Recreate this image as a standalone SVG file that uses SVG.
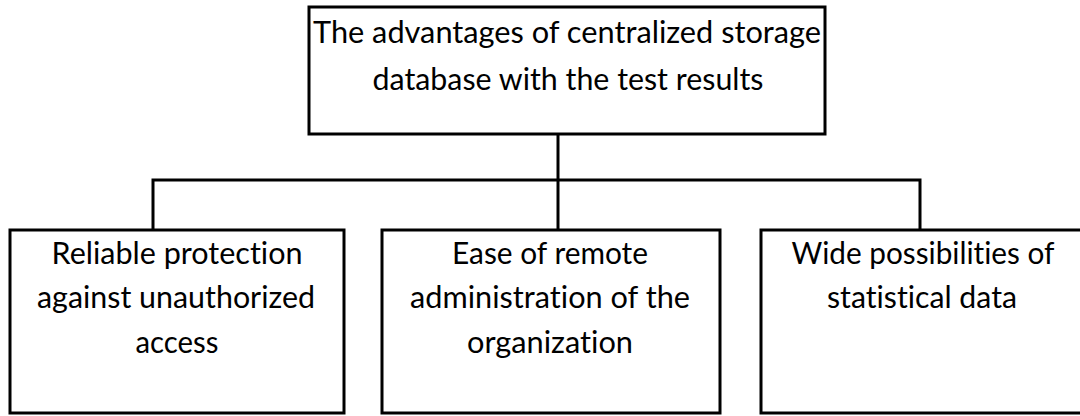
<svg xmlns="http://www.w3.org/2000/svg" width="1080" height="416" viewBox="0 0 1080 416">
  <style>
    .box { fill: #ffffff; stroke: #000000; stroke-width: 3; }
    .conn { fill: none; stroke: #000000; stroke-width: 3; }
    .lbl { font-family: Lato, "Open Sans", "Liberation Sans", sans-serif; font-size: 30px; fill: #000000; text-anchor: middle; font-variant-ligatures: none; }
  </style>
  <rect width="1080" height="416" fill="#ffffff"/>
  <g id="connectors">
    <line class="conn" x1="558" y1="134" x2="558" y2="230"/>
    <polyline class="conn" points="153,230 153,180 920,180 920,230"/>
  </g>
  <g id="root">
    <rect class="box" x="309" y="7" width="516" height="127"/>
    <text class="lbl" x="567" y="43" textLength="508" lengthAdjust="spacingAndGlyphs">The advantages of centralized storage</text>
    <text class="lbl" x="568" y="90" textLength="391" lengthAdjust="spacingAndGlyphs">database with the test results</text>
  </g>
  <g id="protection">
    <rect class="box" x="10" y="230" width="334" height="183"/>
    <text class="lbl" x="177" y="264" textLength="251" lengthAdjust="spacingAndGlyphs">Reliable protection</text>
    <text class="lbl" x="176" y="308" textLength="278" lengthAdjust="spacingAndGlyphs">against unauthorized</text>
    <text class="lbl" x="177" y="353" textLength="83" lengthAdjust="spacingAndGlyphs">access</text>
  </g>
  <g id="administration">
    <rect class="box" x="382" y="230" width="338" height="183"/>
    <text class="lbl" x="550" y="264" textLength="196" lengthAdjust="spacingAndGlyphs">Ease of remote</text>
    <text class="lbl" x="550" y="308" textLength="280" lengthAdjust="spacingAndGlyphs">administration of the</text>
    <text class="lbl" x="550" y="353" textLength="166" lengthAdjust="spacingAndGlyphs">organization</text>
  </g>
  <g id="statistics">
    <rect class="box" x="761" y="230" width="324" height="183"/>
    <text class="lbl" x="923" y="264" textLength="263" lengthAdjust="spacingAndGlyphs">Wide possibilities of</text>
    <text class="lbl" x="922" y="308" textLength="190" lengthAdjust="spacingAndGlyphs">statistical data</text>
  </g>
</svg>
